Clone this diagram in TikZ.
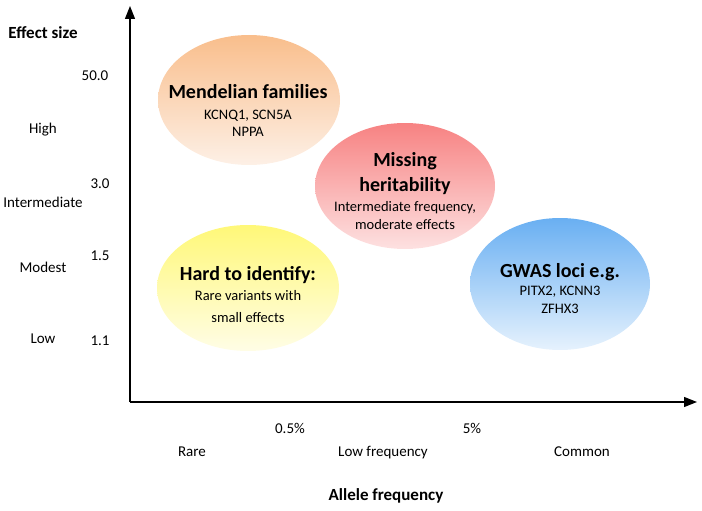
\documentclass[tikz,border=0pt]{standalone}
\usepackage{fontspec}
\setmainfont{Carlito}
\usetikzlibrary{shapes.geometric,arrows.meta}
\begin{document}
\begin{tikzpicture}[x=1pt,y=-1pt,
  blob/.style={ellipse,draw=none,inner sep=0pt},
  ttl/.style={font=\fontsize{20}{22}\selectfont\bfseries,inner sep=0pt,anchor=base},
  sub/.style={font=\fontsize{14.5}{16}\selectfont,inner sep=0pt,anchor=base},
  tick/.style={font=\fontsize{15}{17}\selectfont,inner sep=0pt,anchor=base},
  axlab/.style={font=\fontsize{17}{19}\selectfont\bfseries,inner sep=0pt,anchor=base},
  axis/.style={line width=1.4pt,-{Triangle[length=13pt,width=10pt]}}]
\useasboundingbox (0,0) rectangle (702,511);
% ellipses
\node[blob,minimum width=182pt,minimum height=130pt,top color={rgb,255:red,249;green,190;blue,140},bottom color={rgb,255:red,253;green,240;blue,230}] (mend) at (249,100) {};
\node[blob,minimum width=180pt,minimum height=126pt,top color={rgb,255:red,247;green,130;blue,130},bottom color={rgb,255:red,253;green,225;blue,225}] (miss) at (405,186) {};
\node[blob,minimum width=182pt,minimum height=126pt,top color={rgb,255:red,255;green,248;blue,120},bottom color={rgb,255:red,255;green,253;blue,230}] (hard) at (248,288) {};
\node[blob,minimum width=180pt,minimum height=132pt,top color={rgb,255:red,105;green,175;blue,242},bottom color={rgb,255:red,230;green,242;blue,253}] (gwas) at (560,284) {};
% axes
\coordinate (O) at (130,402);
\coordinate (ytip) at (130,6);
\coordinate (xtip) at (697,402);
\draw[axis] (O) -- (ytip);
\draw[axis] (O) -- (xtip);
% texts in ellipses
\node[ttl] (t1) at (248,99) {Mendelian families};
\node[sub] (t1a) at (248,119) {KCNQ1, SCN5A};
\node[sub] (t1b) at (248,136) {NPPA};
\node[ttl] (t2) at (405,166) {Missing};
\node[ttl] (t2a) at (405,191) {heritability};
\node[sub] (t2b) at (405,211) {Intermediate frequency,};
\node[sub] (t2c) at (405,229) {moderate effects};
\node[ttl] (t3) at (248,280) {Hard to identify:};
\node[sub] (t3a) at (248,300) {Rare variants with};
\node[sub] (t3b) at (248,322) {small effects};
\node[ttl] (t4) at (560,277) {GWAS loci e.g.};
\node[sub] (t4a) at (560,295) {PITX2, KCNN3};
\node[sub] (t4b) at (560,313) {ZFHX3};
% y labels
\node[axlab] (ylab) at (43,39) {Effect size};
\node[tick] (v1) at (95,81) {50.0};
\node[tick] (v2) at (100,188) {3.0};
\node[tick] (v3) at (100,260) {1.5};
\node[tick] (v4) at (100,345) {1.1};
\node[tick] (c1) at (43,133) {High};
\node[tick] (c2) at (43,207) {Intermediate};
\node[tick] (c3) at (43,272) {Modest};
\node[tick] (c4) at (43,343) {Low};
% x labels
\node[tick] (p1) at (290,433) {0.5\%};
\node[tick] (p2) at (472,433) {5\%};
\node[tick] (r1) at (192,456) {Rare};
\node[tick] (r2) at (383,456) {Low frequency};
\node[tick] (r3) at (582,456) {Common};
\node[axlab] (xlab) at (386,500) {Allele frequency};
\end{tikzpicture}
\end{document}
